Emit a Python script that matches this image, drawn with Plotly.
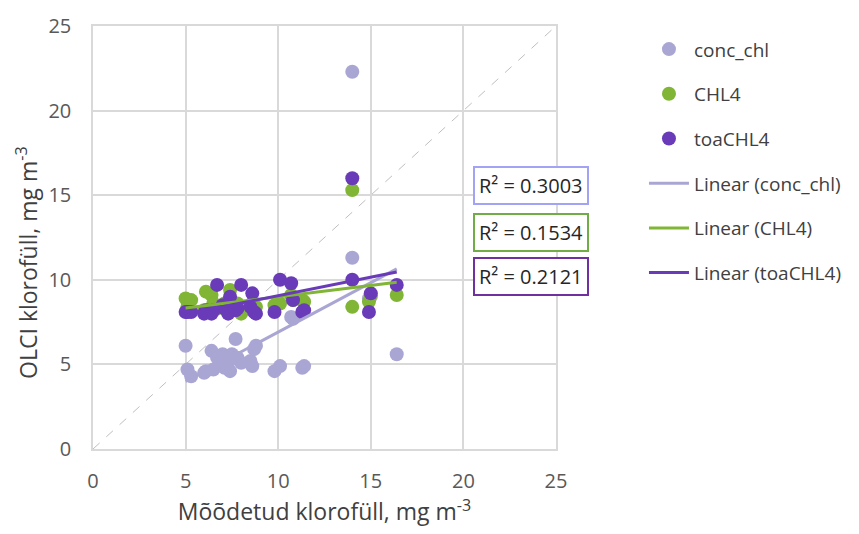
import numpy as np
import plotly.graph_objects as go

# Measured chlorophyll (shared x for all three series)
measured = [5.0, 5.1, 5.3, 6.0, 6.1, 6.4, 6.5, 6.7, 7.0, 7.1, 7.3, 7.4, 7.5, 7.7, 7.8,
            8.0, 8.5, 8.6, 8.7, 8.8, 9.8, 10.1, 10.7, 10.8, 11.3, 11.4, 14.0, 14.0,
            15.0, 14.9, 16.4]
conc_chl = [6.1, 4.7, 4.3, 4.5, 4.6, 5.8, 4.7, 5.4, 5.6, 4.8, 5.1, 4.6, 5.6, 6.5, 5.4,
            5.1, 5.2, 4.9, 5.9, 6.1, 4.6, 4.9, 7.8, 7.7, 4.8, 4.9, 22.3, 11.3,
            9.0, 8.9, 5.6]
chl4 = [8.9, 8.4, 8.8, 8.2, 9.3, 9.1, 8.6, 8.3, 8.4, 8.6, 8.3, 9.4, 8.7, 8.5, 8.6,
        8.0, 8.5, 8.6, 8.3, 8.4, 8.5, 8.6, 9.1, 8.8, 8.8, 8.7, 15.3, 8.4,
        9.1, 8.7, 9.1]
toa_chl4 = [8.1, 8.1, 8.1, 8.0, 8.2, 8.0, 8.2, 9.7, 8.5, 8.3, 8.0, 9.0, 8.4, 8.2, 8.3,
            9.7, 8.4, 9.2, 8.1, 8.0, 8.1, 10.0, 9.8, 8.8, 8.1, 8.2, 16.0, 10.0,
            9.2, 8.1, 9.7]

series_names = ["conc_chl", "CHL4", "toaCHL4"]
r2_labels = ["R² = 0.3003", "R² = 0.1534", "R² = 0.2121"]
axis_range = [0, 25]
tick_vals = [0, 5, 10, 15, 20, 25]
x_title = "Mõõdetud klorofüll, mg m<sup>-3</sup>"
y_title = "OLCI klorofüll, mg m<sup>-3</sup>"

marker_colors = ["#aaa6d4", "#80b535", "#6a3bb9"]
box_colors = ["#a3a3f5", "#70ad47", "#7030a0"]

fig = go.Figure()

# 1:1 line
fig.add_trace(go.Scatter(x=axis_range, y=axis_range, mode="lines",
                         line=dict(color="#bfbfbf", width=1, dash="dash"),
                         showlegend=False, hoverinfo="skip"))

x = np.array(measured)
ys = [conc_chl, chl4, toa_chl4]

for name, yv, col in zip(series_names, ys, marker_colors):
    fig.add_trace(go.Scatter(x=measured, y=yv, mode="markers", name=name,
                             legendgroup=name,
                             marker=dict(color=col, size=14, line=dict(width=0))))

for name, yv, col in zip(series_names, ys, marker_colors):
    k, b = np.polyfit(x, np.array(yv), 1)
    xl = np.array([x.min(), x.max()])
    fig.add_trace(go.Scatter(x=xl, y=k * xl + b, mode="lines",
                             name=f"Linear ({name})", legendgroup="lin" + name,
                             line=dict(color=col, width=3)))

ypos = [0.623, 0.513, 0.407]
for txt, col, yp in zip(r2_labels, box_colors, ypos):
    fig.add_annotation(x=0.946, y=yp, xref="paper", yref="paper", text=txt,
                       xanchor="center", yanchor="middle",
                       showarrow=False, bgcolor="white", bordercolor=col,
                       borderwidth=2, borderpad=4,
                       font=dict(family="Open Sans", size=20, color="#262626"))

# y-axis title (placed like the reference, slightly below the plot centre)
fig.add_annotation(x=-0.1425, y=0.44, xref="paper", yref="paper", text=y_title,
                   textangle=-90, showarrow=False, xanchor="center", yanchor="middle",
                   font=dict(family="Open Sans", size=23, color="#404040"))

axis_common = dict(range=axis_range, tickvals=tick_vals, showgrid=True,
                   gridcolor="#d9d9d9", gridwidth=1.5, zeroline=False,
                   showline=True, linecolor="#d9d9d9", linewidth=1.5, mirror=True,
                   tickfont=dict(family="Open Sans", size=20, color="#595959"),
                   ticks="", fixedrange=True)

fig.update_xaxes(**axis_common, ticklabelstandoff=13,
                 title=dict(text=x_title,
                            font=dict(family="Open Sans", size=23, color="#404040"),
                            standoff=11))
fig.update_yaxes(**axis_common, ticklabelstandoff=16)

fig.update_layout(
    width=859, height=534,
    margin=dict(l=93, r=303, t=22, b=85),
    plot_bgcolor="white", paper_bgcolor="white",
    legend=dict(x=1.19, y=0.99, xanchor="left", yanchor="top",
                font=dict(family="Open Sans", size=19, color="#404040"),
                tracegroupgap=17, itemwidth=40),
)

fig.write_html("out.html")
